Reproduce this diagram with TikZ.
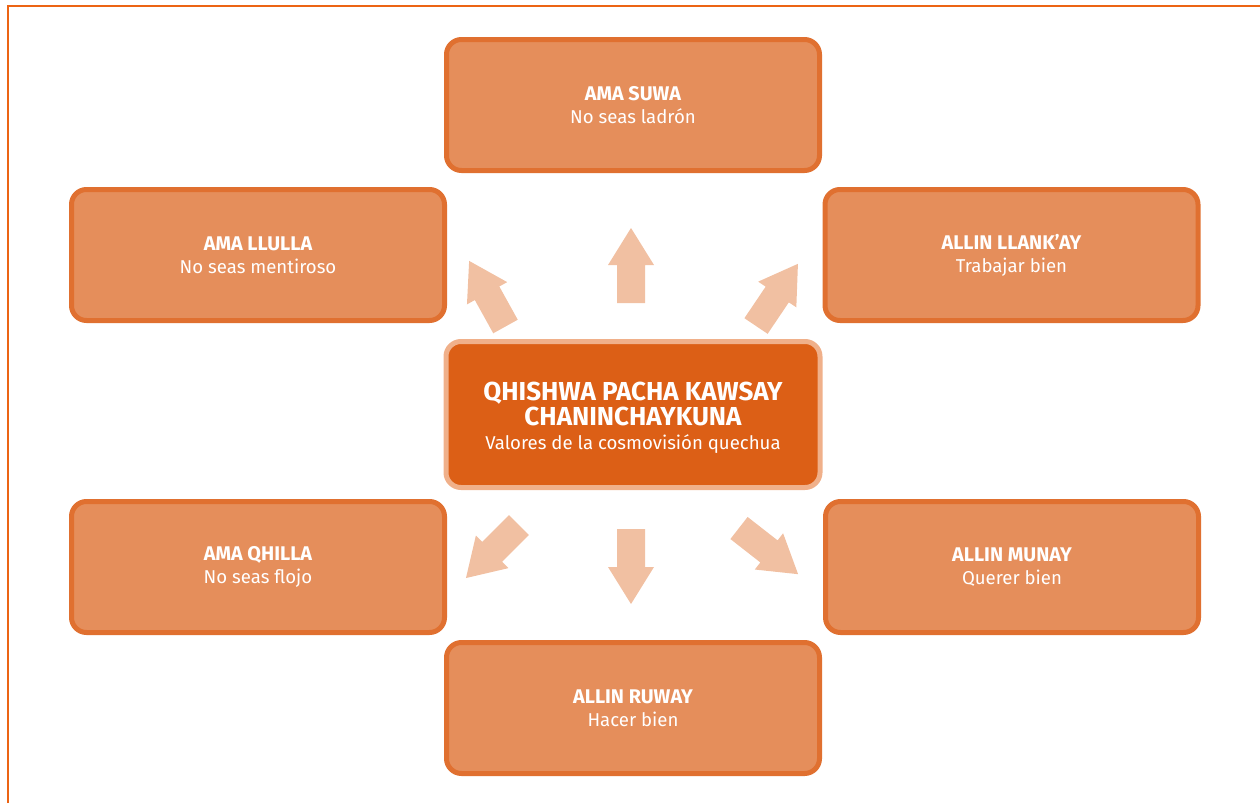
\documentclass[tikz,border=0pt]{standalone}
\usepackage{fontspec}
\setmainfont{Fira Sans}
\definecolor{frameor}{HTML}{EC6414}
\definecolor{boxfill}{HTML}{E58E5B}
\definecolor{boxline}{HTML}{E07030}
\definecolor{hubfill}{HTML}{DC5F16}
\definecolor{hubline}{HTML}{F0B08A}
\definecolor{arrowfill}{HTML}{F1C0A2}
\newcommand{\valtitle}[1]{{\bfseries\fontsize{19.8}{23}\selectfont #1}}
\begin{document}
\begin{tikzpicture}[x=1pt,y=-1pt,
  valuebox/.style={draw=boxline, fill=boxfill, line width=5pt, rounded corners=15pt,
    minimum width=373pt, minimum height=131pt, align=center, text=white,
    font=\fontsize{18.6}{23}\selectfont, inner sep=0pt},
  hubbox/.style={draw=hubline, fill=hubfill, line width=5pt, rounded corners=15pt,
    minimum width=374pt, minimum height=146pt, inner sep=0pt},
  hubline/.style={anchor=base, text=white, inner sep=0pt},
  hubtitle/.style={hubline, font=\bfseries\fontsize{26}{23}\selectfont,
    text height=18pt, text depth=0pt},
  hubsub/.style={hubline, font=\fontsize{18.6}{23}\selectfont},
  flowarrow/.style={fill=arrowfill},
]
\useasboundingbox (0,0) rectangle (1260,803);
% outer frame, open to the right and bottom
\draw[frameor, line width=1.5pt] (8,803) -- (8,6) -- (1260,6);

% central value
\node[hubbox] (hub) at (633,414.5) {};
\node[hubtitle] (hubA) at (633,400.5) {QHISHWA PACHA KAWSAY};
\node[hubtitle] (hubB) at (633,425) {CHANINCHAYKUNA};
\node[hubsub]   (hubC) at (633,449) {Valores de la cosmovisión quechua};

% the six values around it
\node[valuebox] (suwa)    at (633,105)  {\valtitle{AMA SUWA}\\No seas ladrón};
\node[valuebox] (llulla)  at (258,255)  {\valtitle{AMA LLULLA}\\No seas mentiroso};
\node[valuebox] (llankay) at (1011.5,255) {\valtitle{ALLIN LLANK’AY}\\Trabajar bien};
\node[valuebox] (qhilla)  at (258,567)  {\valtitle{AMA QHILLA}\\No seas flojo};
\node[valuebox] (munay)   at (1012,567) {\valtitle{ALLIN MUNAY}\\Querer bien};
\node[valuebox] (ruway)   at (633,708)  {\valtitle{ALLIN RUWAY}\\Hacer bien};

% block arrows pointing outward from the hub
\newcommand{\blockarrow}[3]{%
  \fill[flowarrow, shift={(#1,#2)}, rotate=#3]
    (-14,0) -- (-14,-38) -- (-23,-38) -- (0,-75) -- (23,-38) -- (14,-38) -- (14,0) -- cycle;}
\blockarrow{631}{303}{0}
\blockarrow{631}{529}{180}
\blockarrow{505.5}{326.5}{29}
\blockarrow{756}{326}{-34}
\blockarrow{519}{525}{135}
\blockarrow{739}{528}{-128}
\end{tikzpicture}
\end{document}
